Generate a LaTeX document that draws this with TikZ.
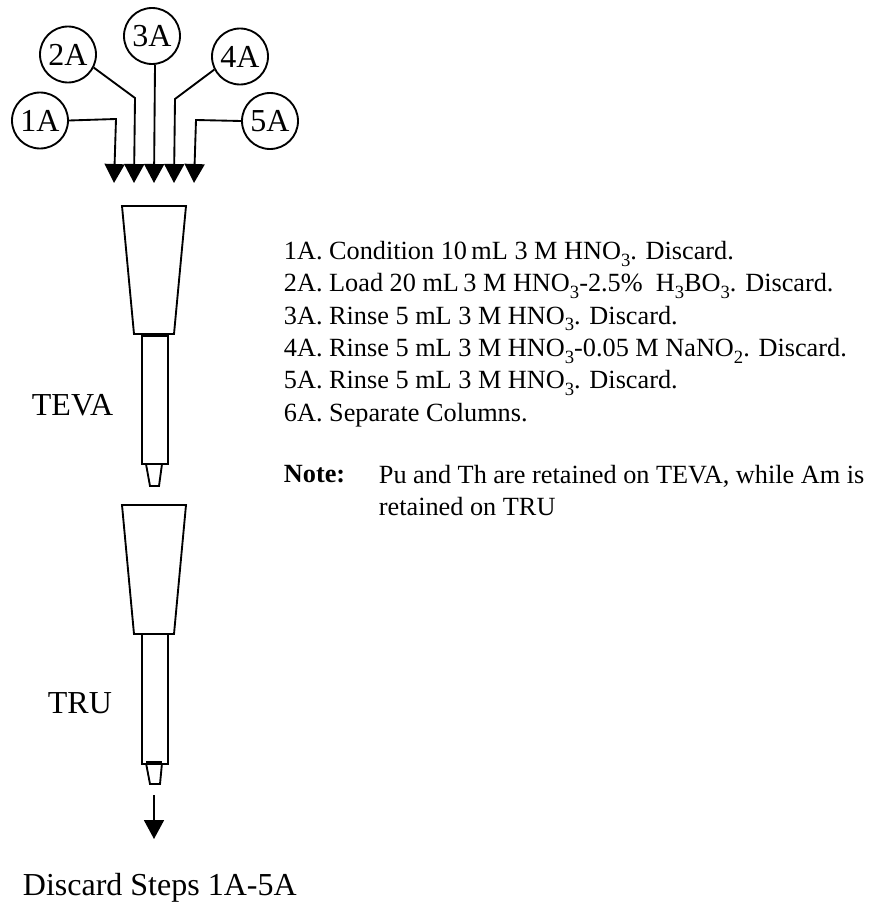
\documentclass[tikz,border=0pt]{standalone}
\usepackage{fontspec}
\setmainfont{Liberation Serif}
\usetikzlibrary{arrows.meta,positioning}

\newcommand{\subn}[1]{\raisebox{-0.55ex}{\fontsize{14}{14}\selectfont #1}}

\begin{document}
\begin{tikzpicture}[
  x=0.75pt,y=-0.75pt,
  line width=1.4pt,
  stepnum/.style={draw,circle,minimum size=42pt,inner sep=0pt,font=\fontsize{24}{28}\selectfont},
  label/.style={inner sep=0pt,anchor=base west,font=\fontsize{24}{28}\selectfont},
  txt/.style={inner sep=0pt,anchor=base west,align=left,font=\fontsize{19.7}{24}\selectfont},
  arr/.style={-{Triangle[length=14.25pt,width=15pt]}}
]
\useasboundingbox (0,0) rectangle (878,906);

% Step circles
\node[stepnum] (c1) at (40,120.5) {1A};
\node[stepnum] (c2) at (68,54.5) {2A};
\node[stepnum] (c3) at (152,36) {3A};
\node[stepnum] (c4) at (240,56.5) {4A};
\node[stepnum] (c5) at (270,121) {5A};

\coordinate (k1) at (116,119);
\coordinate (k2) at (135,98);
\coordinate (k4) at (175,99);
\coordinate (k5) at (196,120);
\coordinate (t1) at (114,183);
\coordinate (t2) at (134,183);
\coordinate (t3) at (154,183);
\coordinate (t4) at (174,183);
\coordinate (t5) at (194,183);

\draw[arr] (c1.east) -- (k1) -- (t1);
\draw[arr] (c2.-27) -- (k2) -- (t2);
\draw[arr] (c3.south) ++(3,0) -- (t3);
\draw[arr] (c4.207) -- (k4) -- (t4);
\draw[arr] (c5.west) -- (k5) -- (t5);

% TEVA column
\draw (122,206) -- (186,206) -- (174,334) -- (134,334) -- cycle;
\draw (142,334) rectangle (168,464);
\draw[line width=2.4pt] (142,335) -- (168,335);
\draw (146,464) -- (150,486) -- (159,486) -- (162,464);

% TRU column
\draw (122,505) -- (186,505) -- (174,634) -- (134,634) -- cycle;
\draw (142,634) rectangle (168,764);
\draw[line width=2.4pt] (146,763) -- (162,763);
\draw (146,763) -- (150,784) -- (160,784) -- (162,763);

\coordinate (d0) at (154,795);
\coordinate (d1) at (154,839);
\draw[arr] (d0) -- (d1);

\node[label] (teva) at (31,415) {TEVA};
\node[label] (tru) at (47,713) {TRU};
\node[label] (discard) at (22,895) {Discard Steps 1A-5A};

% Step list
\node[txt] (steps) at (283,421) {1A. Condition 10\,mL 3 M HNO\subn{3}. Discard.\\[0.2pt]
2A. Load 20 mL\,3 M HNO\subn{3}-2.5\%\ \ H\subn{3}BO\subn{3}. Discard.\\[0.2pt]
3A. Rinse 5 mL 3 M HNO\subn{3}. Discard.\\[0.2pt]
4A. Rinse 5 mL 3 M HNO\subn{3}-0.05 M NaNO\subn{2}. Discard.\\[0.2pt]
5A. Rinse 5 mL 3 M HNO\subn{3}. Discard.\\[0.2pt]
6A. Separate Columns.};

\node[txt] (note) at (283,482) {\bfseries Note:};
\node[txt] (notetxt) at (378,515) {Pu and Th are retained on TEVA, while Am is\\retained on TRU};
\end{tikzpicture}
\end{document}
